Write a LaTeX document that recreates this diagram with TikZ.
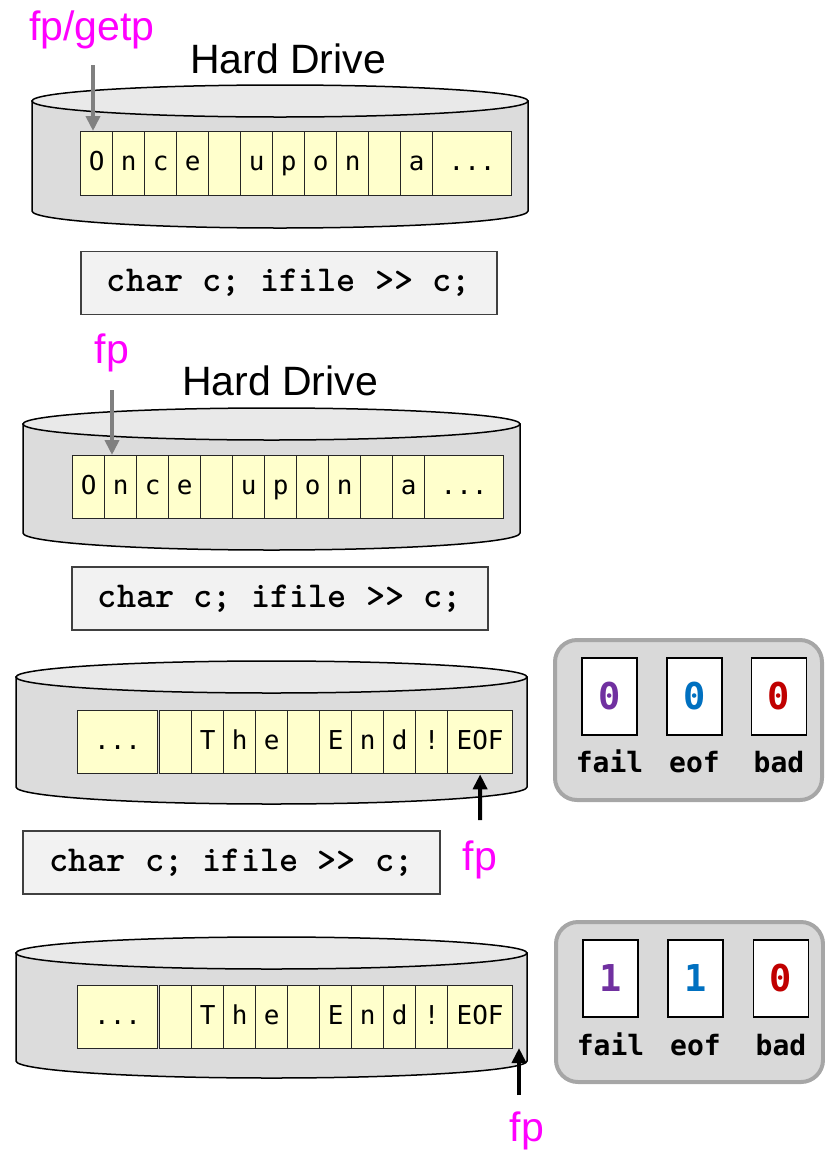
\documentclass[tikz,border=0pt]{standalone}
\usepackage{fontspec}
\setmainfont{Liberation Sans}
\newfontfamily\cellfont{DejaVu Sans Mono}
\newfontfamily\flagfont{DejaVu Sans Mono}
\usetikzlibrary{arrows.meta}

\definecolor{ptrpink}{HTML}{FF00FF}
\definecolor{cellfill}{HTML}{FFFFCC}
\definecolor{drumside}{HTML}{DCDCDC}
\definecolor{drumtop}{HTML}{E9E9E9}
\definecolor{codefill}{HTML}{F2F2F2}
\definecolor{panelfill}{HTML}{D9D9D9}
\definecolor{panelline}{HTML}{A6A6A6}
\definecolor{failc}{HTML}{7030A0}
\definecolor{eofc}{HTML}{0070C0}
\definecolor{badc}{HTML}{C00000}
\definecolor{ptrgray}{HTML}{808080}

\tikzset{
  drumbody/.style={fill=drumside, draw=black, line width=1.5pt},
  drumlid/.style={fill=drumtop, draw=black, line width=1.5pt},
  cell/.style={draw=black!85, line width=1.3pt, fill=cellfill, anchor=north west,
    inner sep=0pt, minimum width=32pt, minimum height=63pt,
    text height=19pt, text depth=5pt,
    font=\cellfont\fontsize{26}{26}\selectfont},
  title/.style={font=\fontsize{41}{41}\selectfont, anchor=base, inner sep=0pt},
  ptrlabel/.style={font=\fontsize{41}{41}\selectfont, text=ptrpink, anchor=base, inner sep=0pt},
  codebox/.style={draw=black!75, line width=1.5pt, fill=codefill, inner sep=0pt,
    minimum width=416pt, minimum height=63pt,
    font=\ttfamily\bfseries\fontsize{36.5}{36.5}\selectfont},
  panel/.style={draw=panelline, line width=4pt, fill=panelfill, rounded corners=22pt,
    minimum width=267pt, minimum height=160pt, inner sep=0pt},
  flagbox/.style={draw=black, line width=1.5pt, fill=white, minimum width=55pt,
    minimum height=77pt, inner sep=0pt, font=\flagfont\bfseries\fontsize{37}{37}\selectfont},
  flaglabel/.style={font=\flagfont\bfseries\fontsize{28}{28}\selectfont, inner sep=0pt,
    text height=21pt, text depth=0pt},
  grayptr/.style={draw=ptrgray, line width=4pt, -{Triangle[length=15pt,width=14pt]}},
  blackptr/.style={draw=black, line width=4pt, -{Triangle[length=15pt,width=14pt]}},
}

% a disk drawn as a short cylinder: left x, right x, lid centre y, base centre y
\newcommand\drum[4]{%
  \pgfmathsetmacro\drumrx{(#2-#1)/2}%
  \pgfmathsetmacro\drumcx{(#1+#2)/2}%
  \filldraw[drumbody] (#1,#3) -- (#1,#4) arc[start angle=180,end angle=360,x radius=\drumrx,y radius=17] -- (#2,#3) -- cycle;
  \filldraw[drumlid] (\drumcx,#3) ellipse[x radius=\drumrx,y radius=16];
}

\begin{document}
\begin{tikzpicture}[x=1pt,y=1pt]
\useasboundingbox (0,0) rectangle (825,-1152);

% ---------- first read: start of file ----------
\node[ptrlabel] (fpA) at (92,-40) {fp/getp};
\node[title] (hdA) at (288,-73) {Hard Drive};
\drum{32}{528}{-101}{-211}
\foreach \ch [count=\i] in {O,n,c,e,{},u,p,o,n,{},a}
  \node[cell, minimum height=64pt] (r1c\i) at ({80+32*(\i-1)},-131) {\ch};
\node[cell, minimum height=64pt, minimum width=79pt] (r1end) at (432,-131) {...};
\coordinate (tA) at (93,-65);
\draw[grayptr] (tA) -- (tA |- r1c1.north);

\node[codebox] (codeA) at (289,-283) {char c; ifile >> c;};

% ---------- after one character ----------
\node[ptrlabel] (fpB) at (112,-363) {fp};
\node[title] (hdB) at (280,-395) {Hard Drive};
\drum{23}{520}{-424}{-533}
\foreach \ch [count=\i] in {O,n,c,e,{},u,p,o,n,{},a}
  \node[cell] (r2c\i) at ({72+32*(\i-1)},-455) {\ch};
\node[cell, minimum width=79pt] (r2end) at (424,-455) {...};
\coordinate (tB) at (112,-390);
\draw[grayptr] (tB) -- (tB |- r2c2.north);

\node[codebox] (codeB) at (280,-598.5) {char c; ifile >> c;};

% ---------- at end of file ----------
\drum{16}{527}{-677}{-787}
\node[cell, minimum width=80pt] (r3dots) at (77,-710) {...};
\foreach \ch [count=\i] in {{},T,h,e,{},E,n,d,!}
  \node[cell] (r3c\i) at ({159+32*(\i-1)},-710) {\ch};
\node[cell, minimum width=65pt] (r3eof) at (447,-710) {EOF};
\node[ptrlabel] (fpC) at (480,-870) {fp};
\coordinate (tC) at (480,-820);
\draw[blackptr] (tC) -- (r3eof.south);

\node[panel] (stC) at (688.5,-720) {};
\node[flagbox, text=failc] (failC) at (609.5,-696.5) {0};
\node[flagbox, text=eofc] (eofC) at (694.5,-696.5) {0};
\node[flagbox, text=badc] (badC) at (779,-696.5) {0};
\node[flaglabel] (failCl) at (609.5,-762) {fail};
\node[flaglabel] (eofCl) at (694.5,-762) {eof};
\node[flaglabel] (badCl) at (779,-762) {bad};

\node[codebox, minimum width=417pt] (codeC) at (231.5,-862.5) {char c; ifile >> c;};

% ---------- read past the end ----------
\drum{16}{527}{-953}{-1061}
\node[cell, minimum width=80pt] (r4dots) at (77,-985) {...};
\foreach \ch [count=\i] in {{},T,h,e,{},E,n,d,!}
  \node[cell] (r4c\i) at ({159+32*(\i-1)},-985) {\ch};
\node[cell, minimum width=65pt] (r4eof) at (447,-985) {EOF};
\node[ptrlabel] (fpD) at (527,-1141) {fp};
\coordinate (tD) at (519,-1095);
\coordinate (hD) at (519,-1048);
\draw[blackptr] (tD) -- (hD);

\node[panel] (stD) at (689.5,-1002) {};
\node[flagbox, text=failc] (failD) at (610.5,-978.5) {1};
\node[flagbox, text=eofc] (eofD) at (695.5,-978.5) {1};
\node[flagbox, text=badc] (badD) at (781,-978.5) {0};
\node[flaglabel] (failDl) at (610.5,-1045) {fail};
\node[flaglabel] (eofDl) at (695.5,-1045) {eof};
\node[flaglabel] (badDl) at (781,-1045) {bad};
\end{tikzpicture}
\end{document}
